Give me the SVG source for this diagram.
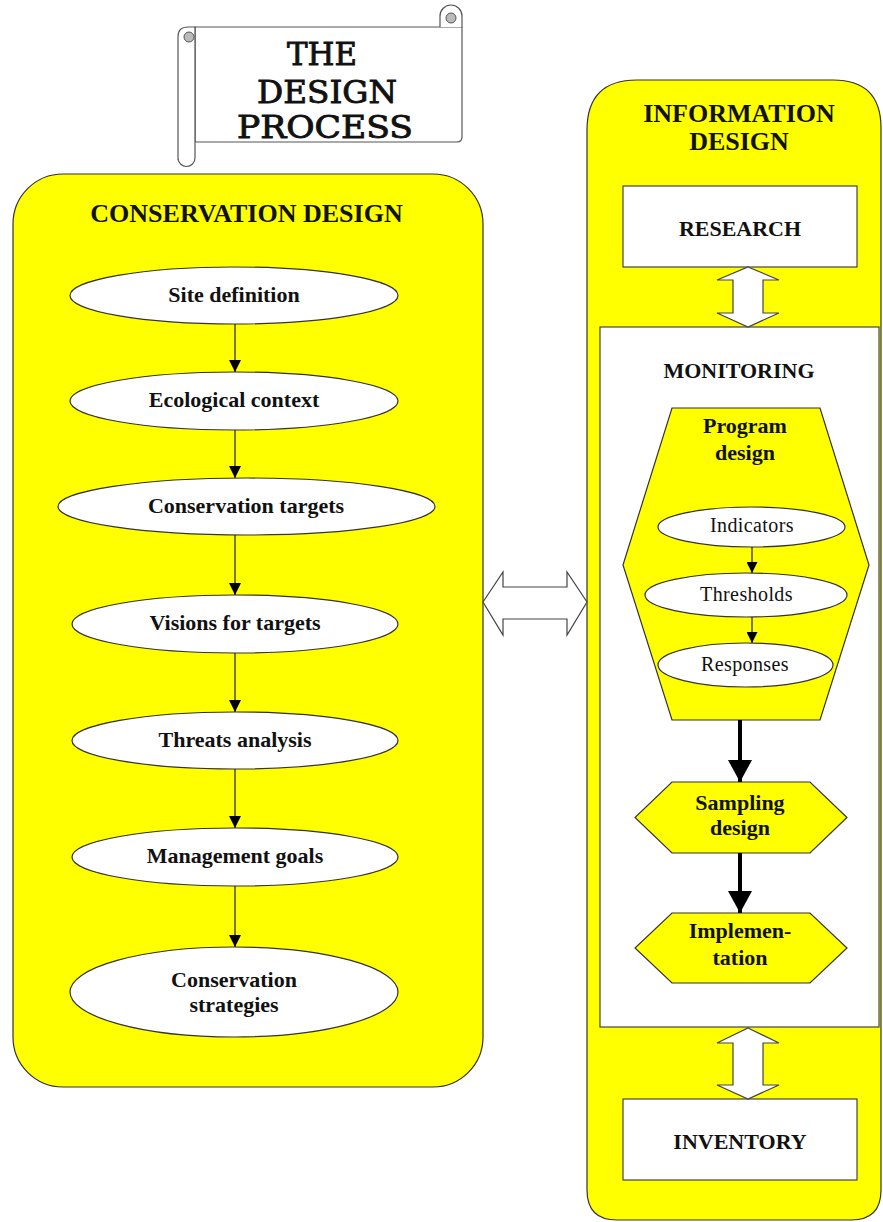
<svg xmlns="http://www.w3.org/2000/svg" width="883" height="1222" viewBox="0 0 883 1222">
<defs>
<style>
.panel{fill:#ffff00;stroke:#333;stroke-width:1.2}
.ell{fill:#fff;stroke:#333;stroke-width:1.2}
.box{fill:#fff;stroke:#444;stroke-width:1.2}
.hex{fill:#ffff00;stroke:#333;stroke-width:1.2}
.dbl{fill:#fff;stroke:#444;stroke-width:1.2}
.t{font-family:"Liberation Serif","Times New Roman",serif;font-weight:bold;font-size:22px;fill:#111;text-anchor:middle}
.h{font-family:"Liberation Serif","Times New Roman",serif;font-weight:bold;font-size:26px;fill:#111;text-anchor:middle}
.s{font-family:"Liberation Serif","Times New Roman",serif;font-size:20px;fill:#111;text-anchor:middle;letter-spacing:0.4px}
.ttl{font-family:"DejaVu Serif",serif;font-size:32px;fill:#111;stroke:#111;stroke-width:0.9;text-anchor:middle}
.thin{stroke:#222;stroke-width:1.2;fill:none}
.thick{stroke:#000;stroke-width:4;fill:none}
</style>
<marker id="ah" markerUnits="userSpaceOnUse" markerWidth="12" markerHeight="12" refX="12" refY="6" orient="auto"><path d="M0,0 L12,6 L0,12 Z" fill="#000"/></marker>
<marker id="ahs" markerUnits="userSpaceOnUse" markerWidth="11" markerHeight="11" refX="11" refY="5.5" orient="auto"><path d="M0,0 L11,5.5 L0,11 Z" fill="#000"/></marker>
<marker id="ahb" markerUnits="userSpaceOnUse" markerWidth="22" markerHeight="24" refX="22" refY="12" orient="auto"><path d="M0,0 L22,12 L0,24 Z" fill="#000"/></marker>
</defs>

<g id="title-scroll">
<path d="M195,27 H462 V137 Q462,142 457,142 H195 Z" fill="#fff" stroke="#555" stroke-width="1.2"/>
<path d="M440,27 V16 A11,11 0 0 1 462,16 V27" fill="#fff" stroke="#555" stroke-width="1.2"/>
<circle cx="451" cy="18" r="5" fill="#bbb" stroke="#555" stroke-width="1"/>
<path d="M178,160 V37 Q178,27 188,27 H195 V158 A8.5,8.5 0 0 1 178,158" fill="#fff" stroke="#555" stroke-width="1.2"/>
<circle cx="189" cy="37" r="5" fill="#bbb" stroke="#555" stroke-width="1"/>
<text class="ttl" x="322" y="65" textLength="70" lengthAdjust="spacingAndGlyphs">THE</text>
<text class="ttl" x="327" y="103" textLength="140" lengthAdjust="spacingAndGlyphs">DESIGN</text>
<text class="ttl" x="325" y="138" textLength="176" lengthAdjust="spacingAndGlyphs">PROCESS</text>
</g>

<g id="conservation-design">
<rect class="panel" x="13" y="174" width="470" height="913" rx="50" ry="50"/>
<text class="h" x="246.5" y="222">CONSERVATION DESIGN</text>
</g>

<g id="site-definition"><ellipse class="ell" cx="234" cy="295.5" rx="164" ry="28.5"/><text class="t" x="234" y="302">Site definition</text></g>
<g id="ecological-context"><ellipse class="ell" cx="234" cy="401" rx="164" ry="29"/><text class="t" x="234" y="407">Ecological context</text></g>
<g id="conservation-targets"><ellipse class="ell" cx="246.5" cy="506.5" rx="188.5" ry="28.5"/><text class="t" x="246" y="513">Conservation targets</text></g>
<g id="visions-for-targets"><ellipse class="ell" cx="235" cy="624" rx="163" ry="29"/><text class="t" x="235" y="630">Visions for targets</text></g>
<g id="threats-analysis"><ellipse class="ell" cx="235" cy="740.5" rx="163" ry="28.5"/><text class="t" x="235" y="747">Threats analysis</text></g>
<g id="management-goals"><ellipse class="ell" cx="235" cy="857" rx="163" ry="29"/><text class="t" x="235" y="863">Management goals</text></g>
<g id="conservation-strategies"><ellipse class="ell" cx="234" cy="992" rx="164" ry="45"/><text class="t" x="234" y="987">Conservation</text><text class="t" x="234" y="1012">strategies</text></g>

<g id="information-design">
<path class="panel" d="M637,80 H833 Q881,80 881,128 V1190 Q881,1220 851,1220 H617 Q587,1220 587,1190 V130 Q587,80 637,80 Z"/>
<text class="h" x="739" y="122">INFORMATION</text>
<text class="h" x="739" y="150">DESIGN</text>
</g>

<g id="research"><rect class="box" x="623" y="186" width="234" height="81"/><text class="t" x="740" y="236">RESEARCH</text></g>

<g id="monitoring"><rect class="box" x="600" y="327" width="279" height="700"/><text class="t" x="739" y="378">MONITORING</text></g>

<g id="program-design">
<polygon class="hex" points="672,408 820,408 869,565 820,720 672,720 623,565"/>
<text class="t" x="745" y="433">Program</text>
<text class="t" x="745" y="460">design</text>
</g>
<g id="indicators"><ellipse class="ell" cx="751.5" cy="527" rx="93.5" ry="20"/><text class="s" x="752" y="532">Indicators</text></g>
<g id="thresholds"><ellipse class="ell" cx="746" cy="595" rx="101" ry="22"/><text class="s" x="746.5" y="601">Thresholds</text></g>
<g id="responses"><ellipse class="ell" cx="745.5" cy="665" rx="87.5" ry="22"/><text class="s" x="745" y="671">Responses</text></g>

<g id="sampling-design">
<polygon class="hex" points="672,782 810,782 847,817.5 810,853 672,853 635,817.5"/>
<text class="t" x="740" y="810">Sampling</text>
<text class="t" x="740" y="835">design</text>
</g>
<g id="implementation">
<polygon class="hex" points="672,913 810,913 847,948 810,983 672,983 635,948"/>
<text class="t" x="740" y="938">Implemen-</text>
<text class="t" x="740" y="965">tation</text>
</g>

<g id="inventory"><rect class="box" x="623" y="1099" width="234" height="81"/><text class="t" x="740" y="1149">INVENTORY</text></g>

<g id="connectors">
<line class="thin" x1="235" y1="324" x2="235" y2="372" marker-end="url(#ah)"/>
<line class="thin" x1="235" y1="430" x2="235" y2="478" marker-end="url(#ah)"/>
<line class="thin" x1="235" y1="535" x2="235" y2="595" marker-end="url(#ah)"/>
<line class="thin" x1="235" y1="653" x2="235" y2="712" marker-end="url(#ah)"/>
<line class="thin" x1="235" y1="769" x2="235" y2="828" marker-end="url(#ah)"/>
<line class="thin" x1="235" y1="886" x2="235" y2="947" marker-end="url(#ah)"/>
<line class="thin" x1="752" y1="547" x2="752" y2="573" marker-end="url(#ahs)"/>
<line class="thin" x1="752" y1="617" x2="752" y2="643" marker-end="url(#ahs)"/>
<line class="thick" x1="740" y1="720" x2="740" y2="782" marker-end="url(#ahb)"/>
<line class="thick" x1="740" y1="853" x2="740" y2="913" marker-end="url(#ahb)"/>
<polygon class="dbl" points="483,602 503,572 503,587 567,587 567,572 587,602 567,635 567,619 503,619 503,635"/>
<polygon class="dbl" points="748,267 779,280 763,280 763,313 779,313 748,327 717,313 733,313 733,280 717,280"/>
<polygon class="dbl" points="748,1028 779,1043 763,1043 763,1085 779,1085 748,1099 717,1085 733,1085 733,1043 717,1043"/>
</g>
</svg>
